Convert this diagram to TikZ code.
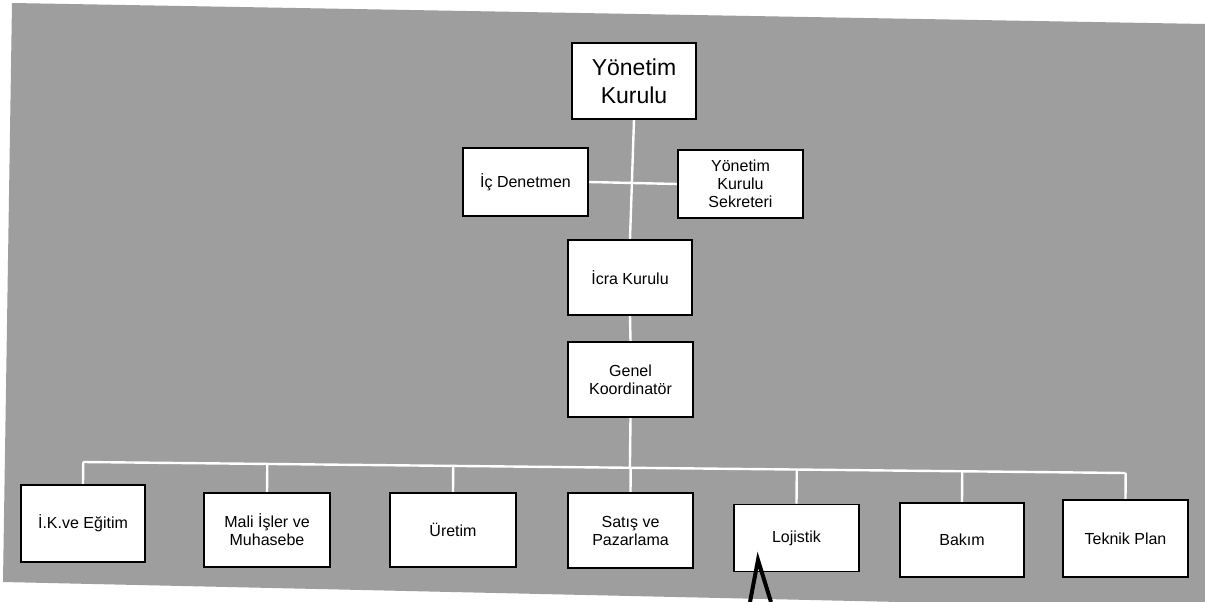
\documentclass[tikz,border=0pt]{standalone}
\usepackage{fontspec}
\setmainfont{Liberation Sans}
\usetikzlibrary{calc,backgrounds}
\definecolor{scangray}{RGB}{158,158,158}
\begin{document}
\begin{tikzpicture}[x=1pt,y=-1pt,
  box/.style={draw=black,line width=1.8pt,fill=white,inner sep=0pt,align=center,
    font=\fontsize{16}{18}\selectfont},
  bigbox/.style={box,font=\fontsize{23}{28}\selectfont},
  link/.style={draw=white,line width=2.4pt},
  pointer/.style={draw=black,line width=4pt,line join=miter}]
\useasboundingbox (0,0) rectangle (1205,602);

% top part
\node[bigbox,minimum width=124pt,minimum height=76pt] (yk) at (634,81) {Yönetim\\Kurulu};
\node[box,minimum width=125pt,minimum height=68pt] (ic) at (525.5,182) {İç Denetmen};
\node[box,minimum width=125pt,minimum height=68pt] (sek) at (740.5,184) {Yönetim\\Kurulu\\Sekreteri};
\node[box,minimum width=124pt,minimum height=75pt] (icra) at (630,277.5) {İcra Kurulu};
\node[box,minimum width=125pt,minimum height=75pt] (gk) at (630.5,379.5) {Genel\\Koordinatör};

% bottom row
\node[box,minimum width=124pt,minimum height=77pt] (ik) at (83,523.5) {İ.K.ve Eğitim};
\node[box,minimum width=126pt,minimum height=74pt] (mali) at (267,530) {Mali İşler ve\\Muhasebe};
\node[box,minimum width=126pt,minimum height=74pt] (uretim) at (453,530) {Üretim};
\node[box,minimum width=125pt,minimum height=75pt] (satis) at (630.5,530.5) {Satış ve\\Pazarlama};
\node[box,minimum width=125pt,minimum height=67pt] (loj) at (796.5,538) {Lojistik};
\node[box,minimum width=124pt,minimum height=74pt] (bakim) at (962,540) {Bakım};
\node[box,minimum width=125pt,minimum height=77pt] (teknik) at (1125.5,538.5) {Teknik Plan};

\coordinate (busL) at (83,462);
\coordinate (busR) at (1125.5,473);

\begin{scope}[on background layer]
  \fill[white] (0,0) rectangle (1205,602);
  \fill[scangray] (12,3) -- (1205,24) -- (1205,602) -- (900,602) -- (3,582) -- cycle;
  \draw[link] (yk.south) -- (icra.north);
  \draw[link] (ic.east) -- (sek.west);
  \draw[link] (icra.south) -- (gk.north);
  \draw[link] (busL) -- (busR);
  \draw[link] (gk.south) -- ($(busL)!(gk.south)!(busR)$);
  \foreach \c in {ik,mali,uretim,satis,loj,bakim,teknik}
    \draw[link] (\c.north) -- ($(busL)!(\c.north)!(busR)$);
\end{scope}

% hand-drawn pointer under Lojistik
\coordinate (ptip) at (758,560);
\coordinate (pleft) at (750,602);
\coordinate (pright) at (771,602);
\draw[pointer] (pleft) -- (ptip) -- (pright);
\end{tikzpicture}
\end{document}
